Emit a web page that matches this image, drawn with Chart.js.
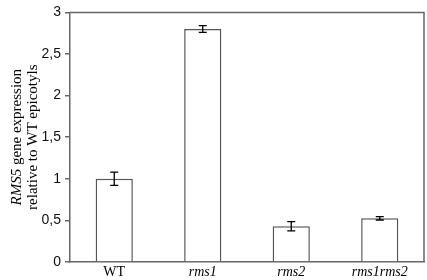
<!DOCTYPE html>
<html>
<head>
<meta charset="utf-8">
<script src="https://cdn.jsdelivr.net/npm/chart.js@4"></script>
<style>
  html, body { margin: 0; padding: 0; background: #fff; }
  #wrap { width: 427px; height: 280px; }
</style>
</head>
<body>
<div id="wrap"><canvas id="rmsChart" width="427" height="280"></canvas></div>
<script>
// chart data
const categories = ["WT", "rms1", "rms2", "rms1rms2"];
const italicLabels = [false, true, true, true];
const expression = [1.0, 2.80, 0.43, 0.525];
const errors = [0.08, 0.04, 0.055, 0.02];
const yTicks = [0, 0.5, 1, 1.5, 2, 2.5, 3];

const axisGrey = "#666666";

// draws the frame on top and right of the plot
const framePlugin = {
  id: "frame",
  afterDraw(chart) {
    const { ctx, chartArea } = chart;
    ctx.save();
    ctx.strokeStyle = axisGrey;
    ctx.lineWidth = 1.5;
    ctx.beginPath();
    ctx.moveTo(chartArea.left, chartArea.top);
    ctx.lineTo(chartArea.right, chartArea.top);
    ctx.lineTo(chartArea.right, chartArea.bottom);
    ctx.stroke();
    ctx.restore();
  }
};

// error bars with caps
const errorBarPlugin = {
  id: "errorBars",
  afterDatasetsDraw(chart) {
    const { ctx } = chart;
    const meta = chart.getDatasetMeta(0);
    const yScale = chart.scales.y;
    ctx.save();
    ctx.strokeStyle = "#000";
    ctx.lineWidth = 1.3;
    meta.data.forEach((bar, i) => {
      const v = expression[i];
      const top = yScale.getPixelForValue(v + errors[i]);
      const bottom = yScale.getPixelForValue(v - errors[i]);
      const x = bar.x;
      ctx.beginPath();
      ctx.moveTo(x, top);
      ctx.lineTo(x, bottom);
      ctx.moveTo(x - 4, top);
      ctx.lineTo(x + 4, top);
      ctx.moveTo(x - 4, bottom);
      ctx.lineTo(x + 4, bottom);
      ctx.stroke();
    });
    ctx.restore();
  }
};

// two line rotated y title, first word italic
const yTitlePlugin = {
  id: "yTitle",
  afterDraw(chart) {
    const { ctx, chartArea } = chart;
    const cy = (chartArea.top + chartArea.bottom) / 2;
    const normal = "15px 'Liberation Serif', 'Times New Roman', serif";
    const italic = "italic 15px 'Liberation Serif', 'Times New Roman', serif";
    ctx.save();
    ctx.fillStyle = "#000";
    ctx.textBaseline = "middle";

    // line 1
    ctx.save();
    ctx.translate(17, cy);
    ctx.rotate(-Math.PI / 2);
    ctx.font = italic;
    const w1 = ctx.measureText("RMS5").width;
    ctx.font = normal;
    const w2 = ctx.measureText(" gene expression").width;
    let x = -(w1 + w2) / 2;
    ctx.textAlign = "left";
    ctx.font = italic;
    ctx.fillText("RMS5", x, 0);
    ctx.font = normal;
    ctx.fillText(" gene expression", x + w1, 0);
    ctx.restore();

    // line 2
    ctx.save();
    ctx.translate(33, cy);
    ctx.rotate(-Math.PI / 2);
    ctx.font = normal;
    ctx.textAlign = "center";
    ctx.fillText("relative to WT epicotyls", 0, 0);
    ctx.restore();

    ctx.restore();
  }
};

const ctx = document.getElementById("rmsChart").getContext("2d");
const rmsChart = new Chart(ctx, {
  type: "bar",
  data: {
    labels: categories,
    datasets: [{
      data: expression,
      backgroundColor: "#ffffff",
      borderColor: "#555555",
      borderWidth: 1.5,
      barPercentage: 0.42,
      categoryPercentage: 1.0
    }]
  },
  options: {
    responsive: false,
    animation: false,
    layout: { padding: { top: 6, right: 3, left: 0, bottom: 0 } },
    plugins: {
      legend: { display: false },
      tooltip: { enabled: false }
    },
    scales: {
      x: {
        grid: { display: false, drawTicks: false, tickLength: 0 },
        border: { color: axisGrey, width: 1.5 },
        afterFit(scale) { scale.height = 18; },
        ticks: {
          color: "#000",
          padding: 2,
          font: (c) => ({
            family: "'Liberation Serif', 'Times New Roman', serif",
            size: 14,
            style: italicLabels[c.index] ? "italic" : "normal"
          })
        }
      },
      y: {
        min: 0,
        max: 3,
        afterFit(scale) { scale.width = 70; },
        afterBuildTicks(scale) {
          scale.ticks = yTicks.map(v => ({ value: v }));
        },
        grid: {
          drawOnChartArea: false,
          drawTicks: true,
          tickLength: 5,
          color: axisGrey,
          lineWidth: 1.5
        },
        border: { color: axisGrey, width: 1.5 },
        ticks: {
          color: "#111",
          padding: 4,
          font: { family: "'Liberation Sans', Arial, sans-serif", size: 14 },
          callback: (v) => String(v).replace(".", ",")
        }
      }
    }
  },
  plugins: [framePlugin, errorBarPlugin, yTitlePlugin]
});
</script>
</body>
</html>
